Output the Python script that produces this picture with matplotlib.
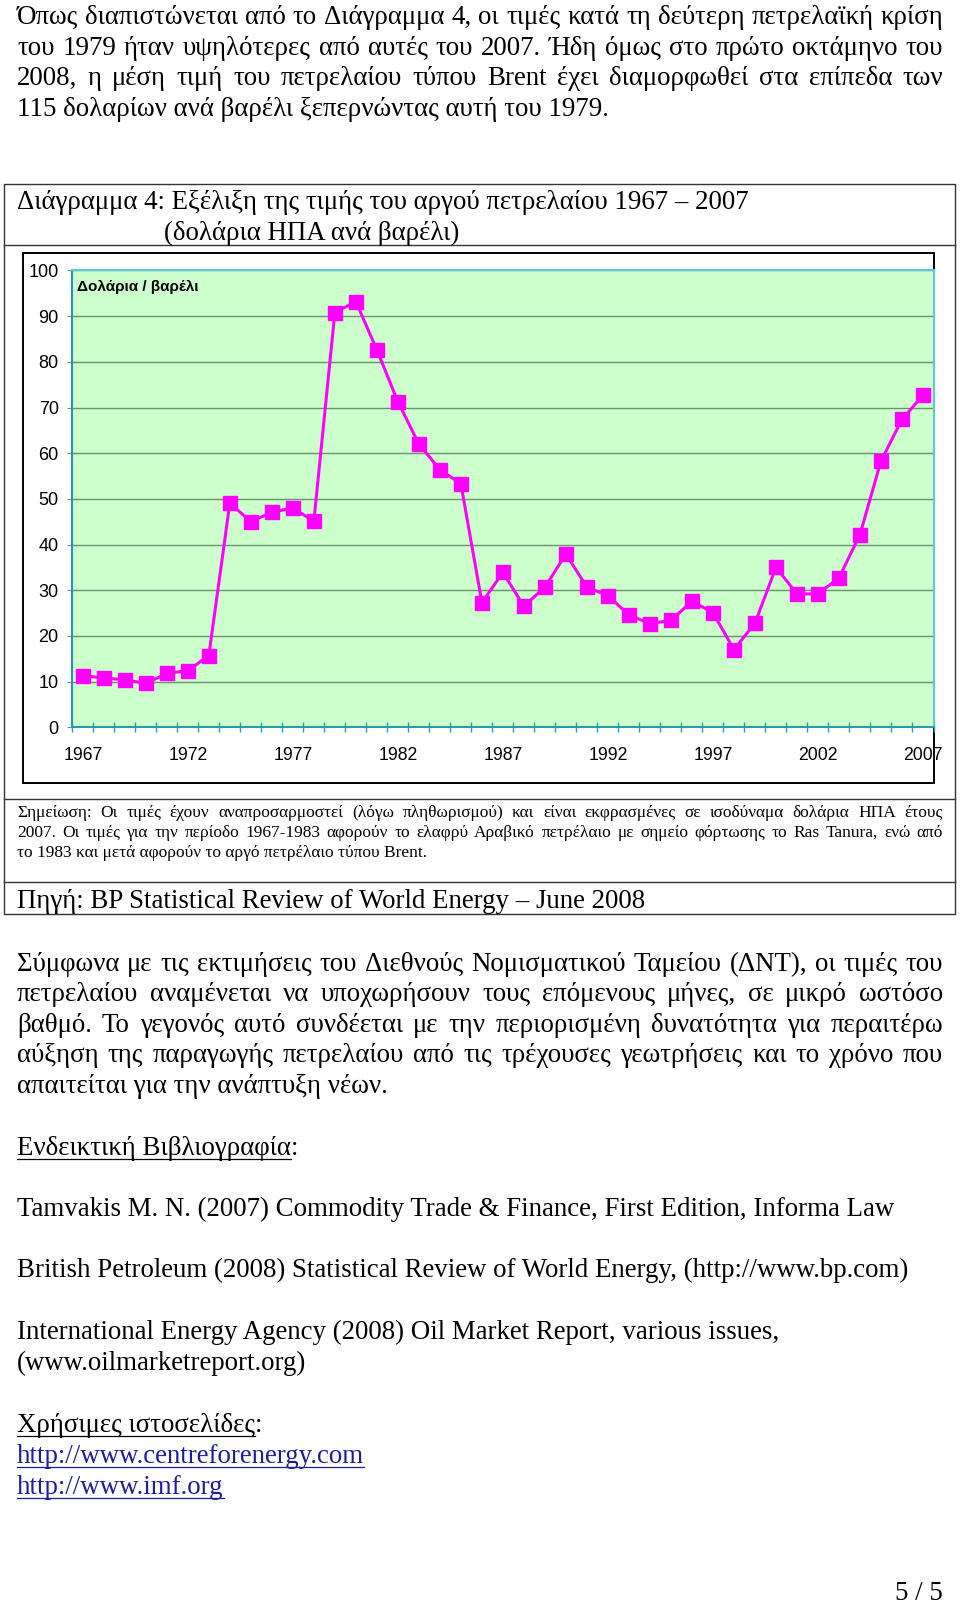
import matplotlib
matplotlib.use("Agg")
import matplotlib.pyplot as plt
import numpy as np
from matplotlib.patches import Rectangle

# data (US $ per barrel, 2007 money)
years = list(range(1967, 2008))
prices = [11.3, 10.8, 10.4, 9.6, 11.8, 12.4, 15.7, 49.1, 45.0, 47.1, 48.0, 45.1,
          90.8, 93.2, 82.6, 71.3, 62.0, 56.4, 53.3,
          27.3, 33.9, 26.5, 30.7, 37.9, 30.7, 28.8, 24.6, 22.7, 23.4, 27.6, 25.1,
          17.0, 22.8, 35.0, 29.2, 29.2, 32.7, 42.2, 58.3, 67.4, 72.7]
y_ticks = list(range(0, 101, 10))
x_label_years = years[::5]

para1 = ["Όπως διαπιστώνεται από το Διάγραμμα 4, οι τιμές κατά τη δεύτερη πετρελαϊκή κρίση",
         "του 1979 ήταν υψηλότερες από αυτές του 2007. Ήδη όμως στο πρώτο οκτάμηνο του",
         "2008, η μέση τιμή του πετρελαίου τύπου Brent έχει διαμορφωθεί στα επίπεδα των",
         "115 δολαρίων ανά βαρέλι ξεπερνώντας αυτή του 1979."]
title_lines = ["Διάγραμμα 4: Εξέλιξη της τιμής του αργού πετρελαίου 1967 – 2007",
               "(δολάρια ΗΠΑ ανά βαρέλι)"]
note_lines = ["Σημείωση: Οι τιμές έχουν αναπροσαρμοστεί (λόγω πληθωρισμού) και είναι εκφρασμένες σε ισοδύναμα δολάρια ΗΠΑ έτους",
              "2007. Οι τιμές για την περίοδο 1967-1983 αφορούν το ελαφρύ Αραβικό πετρέλαιο με σημείο φόρτωσης το Ras Tanura, ενώ από",
              "το 1983 και μετά αφορούν το αργό πετρέλαιο τύπου Brent."]
source = "Πηγή: BP Statistical Review of World Energy – June 2008"
para2 = ["Σύμφωνα με τις εκτιμήσεις του Διεθνούς Νομισματικού Ταμείου (ΔΝΤ), οι τιμές του",
         "πετρελαίου αναμένεται να υποχωρήσουν τους επόμενους μήνες, σε μικρό ωστόσο",
         "βαθμό. Το γεγονός αυτό συνδέεται με την περιορισμένη δυνατότητα για περαιτέρω",
         "αύξηση της παραγωγής πετρελαίου από τις τρέχουσες γεωτρήσεις και το χρόνο που",
         "απαιτείται για την ανάπτυξη νέων."]
refs = ["Tamvakis M. N. (2007) Commodity Trade & Finance, First Edition, Informa Law",
        "British Petroleum (2008) Statistical Review of World Energy, (http://www.bp.com)",
        "International Energy Agency (2008) Oil Market Report, various issues,",
        "(www.oilmarketreport.org)"]
links = ["http://www.centreforenergy.com", "http://www.imf.org"]

SERIF = ["Liberation Serif", "DejaVu Serif"]
SANS = ["Liberation Sans", "DejaVu Sans"]
BODY = 19.4
NOTE = 12.5
X0, X1 = 17, 943

fig = plt.figure(figsize=(9.6, 16.03), dpi=100)
doc = fig.add_axes([0, 0, 1, 1])
doc.set_xlim(0, 960)
doc.set_ylim(1603, 0)
doc.axis("off")
renderer = fig.canvas.get_renderer()


def put_line(text, y, size=BODY, justify=False, x=X0, color="black", underline=False):
    if not justify:
        t = doc.text(x, y, text, fontsize=size, family=SERIF, va="baseline", color=color)
        w = t.get_window_extent(renderer).width
        if underline:
            doc.plot([x, x + w], [y + 3.5, y + 3.5], color=color, lw=0.9)
        return w
    words = text.split(" ")
    arts = [doc.text(0, y, wd, fontsize=size, family=SERIF, va="baseline") for wd in words]
    widths = [a.get_window_extent(renderer).width for a in arts]
    gap = (X1 - X0 - sum(widths)) / (len(words) - 1)
    xx = X0
    for a, w in zip(arts, widths):
        a.set_x(xx)
        xx += w + gap
    return X1 - X0


for i, (line, y) in enumerate(zip(para1, [24, 55, 85, 116])):
    put_line(line, y, justify=i < 3)

# box around the chart
doc.add_patch(Rectangle((4, 183.5), 951.3, 730.5, fill=False, ec="#333333", lw=1.0))
for yy in [245, 799, 882.3]:
    doc.plot([4, 955.3], [yy, yy], color="#333333", lw=1.0)
doc.add_patch(Rectangle((22.7, 253.3), 911.6, 529.4, fill=False, ec="black", lw=1.4))

put_line(title_lines[0], 209)
put_line(title_lines[1], 240.5, x=164)
for i, (line, y) in enumerate(zip(note_lines, [817, 837, 857])):
    put_line(line, y, size=NOTE, justify=i < 2)
put_line(source, 908)

for i, (line, y) in enumerate(zip(para2, [971, 1001, 1032, 1062, 1093])):
    put_line(line, y, justify=i < 4)

w = put_line("Ενδεικτική Βιβλιογραφία", 1155, underline=True)
put_line(":", 1155, x=X0 + w)
for line, y in zip(refs, [1216, 1277, 1339, 1370]):
    put_line(line, y)
w = put_line("Χρήσιμες ιστοσελίδες", 1432, underline=True)
put_line(":", 1432, x=X0 + w)
for line, y in zip(links, [1463, 1494]):
    put_line(line, y, color="#1c1ca0", underline=True)
doc.text(943, 1600, "5 / 5", fontsize=BODY, family=SERIF, ha="right", va="baseline")

# the chart itself
L, R, T, B = 72.3, 933.5, 270.5, 727.3
ax = fig.add_axes([L / 960, 1 - B / 1603, (R - L) / 960, (B - T) / 1603])
ax.set_facecolor("#CCFFCC")
x = np.arange(len(years))
ax.plot(x, prices, color="#FF00FF", lw=2.2, marker="s", ms=9.6, mec="#FF00FF", zorder=3)
ax.set_xlim(-0.5, len(years) - 0.5)
ax.set_ylim(0, 100)
ax.set_yticks(y_ticks)
ax.set_yticklabels([str(v) for v in y_ticks], fontsize=13, family=SANS)
ax.set_xticks(x[::5])
ax.set_xticklabels([str(v) for v in x_label_years], fontsize=12.7, family=SANS)
ax.set_xticks(np.arange(-0.5, len(years), 1), minor=True)
ax.tick_params(axis="x", which="major", length=0, pad=14.5)
ax.tick_params(axis="x", which="minor", direction="inout", length=7, color="#2a9ab0", width=1)
ax.tick_params(axis="y", direction="out", length=3.8, pad=6, color="#888888")
ax.yaxis.grid(True, color="#6f8f70", lw=1.0)
ax.set_axisbelow(True)
ax.spines["top"].set_color("#5bc8dc")
ax.spines["right"].set_color("#5bc8dc")
ax.spines["left"].set_color("#2a8fc0")
ax.spines["bottom"].set_color("#2a9ab0")
for s in ax.spines.values():
    s.set_linewidth(1.5)
ax.text(77, 291, "Δολάρια / βαρέλι", fontsize=11, fontweight="bold", family=SANS,
        va="baseline", transform=doc.transData, clip_on=False)

fig.savefig("out.png", dpi=100)
